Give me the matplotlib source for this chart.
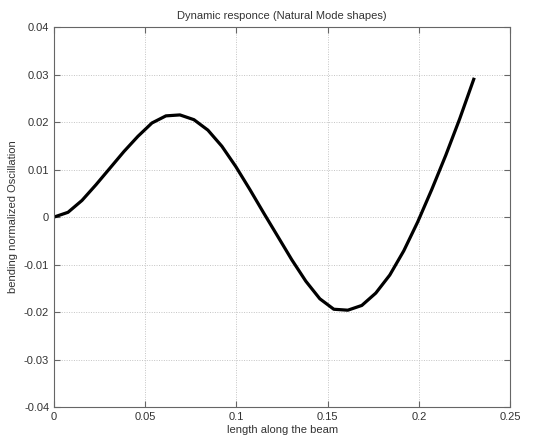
import matplotlib
matplotlib.use('Agg')
import matplotlib.pyplot as plt

# sampled mode shape along the beam
x_pos = [0.0, 0.00767, 0.01533, 0.023, 0.03067, 0.03833, 0.046, 0.05367, 0.06133, 0.069,
         0.07667, 0.08433, 0.092, 0.09967, 0.10733, 0.115, 0.12267, 0.13033, 0.138, 0.14567,
         0.15333, 0.161, 0.16867, 0.17633, 0.184, 0.19167, 0.19933, 0.207, 0.21467, 0.22233, 0.23]
y_val = [0.0, 0.001, 0.0035, 0.0068, 0.0103, 0.0138, 0.0170, 0.0198, 0.0213, 0.0215,
         0.0205, 0.0183, 0.0149, 0.0106, 0.0058, 0.0008, -0.0041, -0.0090, -0.0135, -0.0172,
         -0.0194, -0.0196, -0.0186, -0.0160, -0.0122, -0.0071, -0.0010, 0.0058, 0.0130, 0.0207, 0.0290]
xticks = [0, 0.05, 0.1, 0.15, 0.2, 0.25]
xtick_labels = ['0', '0.05', '0.1', '0.15', '0.2', '0.25']
yticks = [-0.04, -0.03, -0.02, -0.01, 0, 0.01, 0.02, 0.03, 0.04]
ytick_labels = ['-0.04', '-0.03', '-0.02', '-0.01', '0', '0.01', '0.02', '0.03', '0.04']

plt.rcParams['font.family'] = ['Liberation Sans', 'DejaVu Sans']

fig = plt.figure(figsize=(5.51, 4.43), dpi=100)
ax = fig.add_axes([0.098, 0.081, 0.828, 0.858])
ax.plot(x_pos, y_val, color='black', lw=2.3, solid_joinstyle='round')

ax.set_xlim(0, 0.25)
ax.set_ylim(-0.04, 0.04)
ax.set_xticks(xticks)
ax.set_xticklabels(xtick_labels)
ax.set_yticks(yticks)
ax.set_yticklabels(ytick_labels)
ax.grid(True, linestyle=(0, (1, 1.5)), color='#c4c4c4', lw=0.7)
ax.tick_params(direction='in', top=True, right=True, labelsize=8, length=4,
               color='#666666', labelcolor='#333333')
for s in ax.spines.values():
    s.set_color('#666666')
    s.set_linewidth(0.8)

ax.set_title('Dynamic responce (Natural Mode shapes)', fontsize=8, color='#333333', pad=6)
ax.set_xlabel('length along the beam', fontsize=8, color='#333333', labelpad=2)
ax.set_ylabel('bending normalized Oscillation', fontsize=8, color='#333333', labelpad=4)

fig.savefig('out.png', dpi=100)
